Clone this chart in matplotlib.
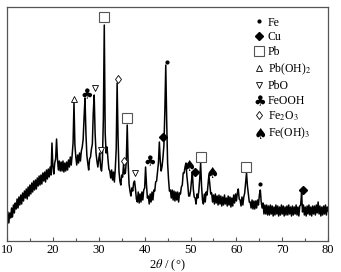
import numpy as np
import matplotlib
matplotlib.use("Agg")
import matplotlib.pyplot as plt
from matplotlib.lines import Line2D
from matplotlib.path import Path
from matplotlib.textpath import TextPath
from matplotlib.font_manager import FontProperties

plt.rcParams["font.family"] = ["Liberation Serif", "DejaVu Serif"]
plt.rcParams["mathtext.fontset"] = "stix"

# --- XRD pattern (0.2 deg steps, 10..80) ---
two_theta = np.round(np.arange(10.0, 80.01, 0.2), 1)
intensity = [
    19, 29, 18, 28, 23,   33, 24, 36, 28, 38,   32, 42, 33, 44, 36,   46, 37, 48, 40, 50,
    43, 52, 42, 54, 45,   56, 47, 58, 49, 60,   51, 61, 52, 63, 55,   65, 56, 66, 57, 68,
    60, 69, 59, 71, 62,   72, 64, 74, 66, 98,   74, 67, 78, 82, 102,  82, 71, 80, 70, 79,
    70, 80, 69, 78, 70,   79, 71, 81, 74, 84,   76, 86, 98, 138, 96,  84, 76, 86, 78, 88,
    80, 90, 94, 102, 124, 143, 108, 86, 78, 71, 82, 84, 92, 97, 128, 146, 108, 88, 80, 74,
    82, 88, 74, 70, 82,   122, 216, 108, 88, 94, 82, 72, 70, 63, 71,  61, 69, 59, 72, 92,
    158, 104, 70, 60, 56, 66, 64, 77, 67, 68,   80, 116, 78, 57, 50,  45, 53, 50, 58, 60,
    52, 42, 39, 49, 38,   47, 39, 49, 41, 51,   53, 74, 56, 43, 45,   37, 47, 39, 49, 41,
    51, 50, 59, 60, 69,   78, 99, 80, 70, 75,   84, 96, 130, 176, 120, 78, 62, 50, 51, 43,
    51, 41, 50, 40, 49,   41, 49, 39, 48, 47,   54, 56, 68, 68, 74,   78, 65, 56, 45, 45,
    50, 60, 68, 52, 44,   43, 37, 47, 43, 50,   62, 78, 55, 41, 37,   47, 39, 49, 46, 56,
    66, 57, 47, 48, 39,   46, 37, 47, 38, 45,   36, 46, 37, 45, 35,   44, 36, 46, 37, 43,
    35, 45, 36, 44, 34,   43, 35, 46, 38, 47,   40, 48, 52, 42, 41,   35, 44, 36, 44, 48,
    58, 68, 55, 47, 39,   39, 33, 41, 32, 40,   32, 40, 33, 41, 36,   46, 51, 39, 33, 38,
    27, 36, 27, 36, 26,   35, 26, 36, 27, 35,   25, 34, 26, 36, 27,   35, 25, 34, 26, 36,
    27, 35, 25, 34, 26,   35, 26, 36, 27, 34,   25, 35, 26, 34, 27,   36, 26, 34, 25, 35,
    36, 48, 29, 36, 26,   34, 25, 35, 27, 36,   26, 34, 25, 35, 27,   35, 26, 36, 28, 39,
    27, 35, 25, 34, 26,   35, 27, 36, 26, 34,   30,
]

# phase marks: positions above peaks
fe_x, fe_y = [44.8, 65.2], [179, 57]
cu_x, cu_y = [43.9, 50.9, 74.6], [104, 69, 51]
pb_x, pb_y = [31.1, 36.2, 52.3, 62.0], [224, 123, 84, 74]
pboh_x, pboh_y = [24.6], [142]
pbo_x, pbo_y = [29.1, 30.4, 38.0], [153, 91, 68]
feooh_x, feooh_y = [27.3, 40.9], [148, 81]
fe2o3_x, fe2o3_y = [34.2, 35.5], [162, 80]
feoh3_x, feoh3_y = [49.4, 54.5], [76, 69]
labels = ["Fe", "Cu", "Pb", "Pb(OH)$_2$", "PbO", "FeOOH", "Fe$_2$O$_3$", "Fe(OH)$_3$"]


def glyph_marker(ch):
    tp = TextPath((0, 0), ch, prop=FontProperties(family="DejaVu Sans"))
    v = tp.vertices
    c = (v.min(axis=0) + v.max(axis=0)) / 2
    return Path(v - c, tp.codes)


club = glyph_marker("\u2663")
spade = glyph_marker("\u2660")
edge = "#555555"

styles = [
    dict(marker="o", ms=2, color="black"),
    dict(marker="D", ms=4.5, color="black"),
    dict(marker="s", ms=7.5, mfc="white", mec=edge, mew=0.8),
    dict(marker="^", ms=4.5, mfc="white", mec="black", mew=0.6),
    dict(marker="v", ms=4.5, mfc="white", mec="black", mew=0.6),
    dict(marker=club, ms=8, mew=0, color="black"),
    dict(marker="d", ms=4.5, mfc="white", mec="black", mew=0.6),
    dict(marker=spade, ms=8, mew=0, color="black"),
]
positions = [(fe_x, fe_y), (cu_x, cu_y), (pb_x, pb_y), (pboh_x, pboh_y),
             (pbo_x, pbo_y), (feooh_x, feooh_y), (fe2o3_x, fe2o3_y), (feoh3_x, feoh3_y)]

fig = plt.figure(figsize=(3.41, 2.72), dpi=100)
ax = fig.add_axes([0.0205, 0.114, 0.942, 0.86])

ax.plot(two_theta, intensity, color="black", lw=1.1)

for (px, py), st in zip(positions, styles):
    ax.plot(px, py, ls="none", zorder=3, **st)

handles = [Line2D([], [], ls="none", **st) for st in styles]
ax.legend(handles, labels, loc="upper left", bbox_to_anchor=(0.745, 0.995),
          frameon=False, fontsize=8.5, handlelength=0.8, handletextpad=0.3,
          labelspacing=0.25, borderpad=0.2)

ax.set_xlim(10, 80)
ax.set_ylim(0, 234)
ax.set_xticks(range(10, 81, 10))
ax.set_xticks(range(15, 80, 10), minor=True)
ax.set_yticks([])
ax.tick_params(axis="x", which="major", direction="in", length=3, width=0.8,
               colors=edge, labelcolor="black", labelsize=9, pad=2)
ax.tick_params(axis="x", which="minor", direction="in", length=2, width=0.8, colors=edge)
for s in ax.spines.values():
    s.set_color(edge)
    s.set_linewidth(0.9)
ax.set_xlabel(r"2$\theta$ / (°)", fontsize=9, labelpad=1)

fig.savefig("out.png", dpi=100)
